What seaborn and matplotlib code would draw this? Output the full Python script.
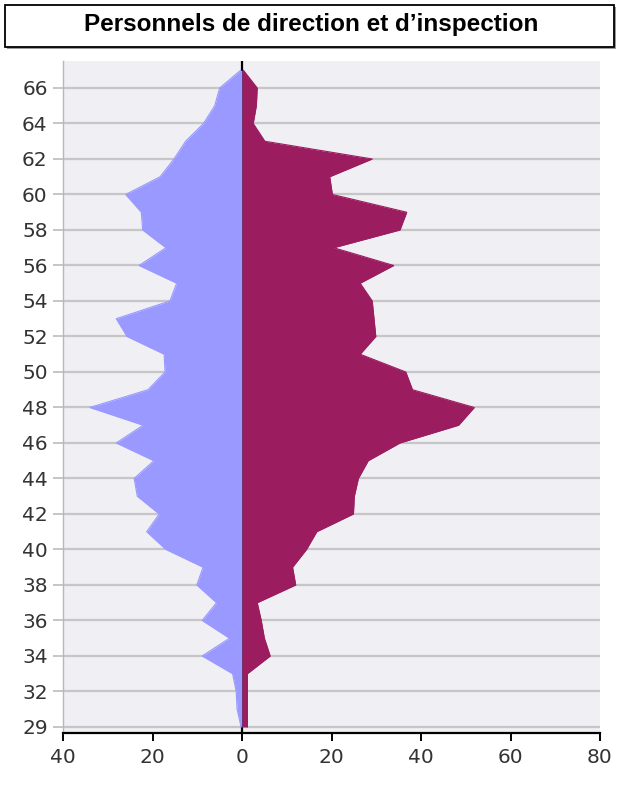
import numpy as np
import pandas as pd
import matplotlib
matplotlib.use("Agg")
import matplotlib.pyplot as plt
import seaborn as sns
from matplotlib.patches import Rectangle

# ---- data ----
ages = [29, 31] + list(range(32, 68))
left_values = [0.2, 1.1, 1.3, 2.1, 8.9, 2.8, 8.9, 5.7, 10.1, 8.7,
               17.0, 21.3, 18.5, 23.4, 24.1, 19.7, 28.1, 22.1, 34.0, 21.0,
               17.2, 17.4, 25.7, 28.1, 16.1, 14.6, 23.0, 17.0, 22.2, 22.5,
               26.0, 18.3, 15.2, 12.6, 8.6, 6.1, 5.0, 0.3]
right_values = [1.2, 1.2, 1.2, 1.2, 6.3, 5.0, 4.3, 3.4, 12.0, 11.3,
                14.4, 16.7, 24.9, 25.1, 26.0, 28.2, 35.3, 48.4, 51.9, 38.1,
                36.6, 26.4, 29.9, 29.5, 29.1, 26.4, 33.9, 20.5, 35.3, 36.8,
                20.2, 19.6, 29.1, 5.1, 2.5, 3.2, 3.4, 0.3]
x_ticks = [-40, -20, 0, 20, 40, 60, 80]
x_tick_labels = ["40", "20", "0", "20", "40", "60", "80"]
title = "Personnels de direction et d\u2019inspection"

sns.set_theme(style="white")
plt.rcParams["font.family"] = ["DejaVu Sans"]

df = pd.DataFrame({"pos": np.arange(len(ages)),
                   "age": ages,
                   "left": -np.array(left_values),
                   "right": np.array(right_values)})

W, H = 621, 787
fig = plt.figure(figsize=(W / 100, H / 100), dpi=100)
fig.patch.set_facecolor("white")
ax = fig.add_axes([63 / W, 1 - 733 / H, (600 - 63) / W, (733 - 61) / H])
ax.set_facecolor("#efeff4")

blue = "#9999ff"
pink = "#9c1c60"

ax.axvline(0, color="black", lw=1.6, zorder=1)
ax.fill_betweenx(df["pos"], df["left"], 0, color=blue, lw=0, zorder=2)
ax.fill_betweenx(df["pos"], 0, df["right"], color=pink, lw=0, zorder=2)
sns.lineplot(data=df, x="left", y="pos", orient="y", color=blue, lw=0.8, ax=ax, zorder=3)
sns.lineplot(data=df, x="right", y="pos", orient="y", color=pink, lw=0.8, ax=ax, zorder=3)

ax.set_xlim(-40, 80)
ax.set_ylim(-0.34, 37.52)

ytick_pos = [0] + list(range(2, len(ages), 2))
ax.set_yticks(ytick_pos)
ax.set_yticklabels([str(ages[i]) for i in ytick_pos])
ax.set_xticks(x_ticks)
ax.set_xticklabels(x_tick_labels)
ax.set_xlabel("")
ax.set_ylabel("")

ax.grid(axis="y", color="#c6c6c6", lw=1.6, zorder=0)
ax.grid(axis="x", visible=False)
ax.set_axisbelow(True)

for s in ["top", "right"]:
    ax.spines[s].set_visible(False)
ax.spines["left"].set_color("#b8b8b8")
ax.spines["left"].set_linewidth(1.0)
ax.spines["bottom"].set_color("black")
ax.spines["bottom"].set_linewidth(1.6)

ax.tick_params(axis="y", which="both", left=True, length=7, width=1.4,
               color="#c6c6c6", labelsize=14.5, labelcolor="#333333", pad=4)
ax.tick_params(axis="x", which="both", bottom=True, length=6, width=1.4,
               color="black", labelsize=14.5, labelcolor="#333333", pad=5,
               direction="out")

# title box
shadow = Rectangle((7 / W, 1 - 49 / H), (614 - 5) / W, (47 - 5) / H,
                   transform=fig.transFigure, facecolor="#9a9a9a",
                   edgecolor="none", zorder=0)
fig.patches.append(shadow)
box = Rectangle((5 / W, 1 - 47 / H), (614 - 5) / W, (47 - 5) / H,
                transform=fig.transFigure, facecolor="white",
                edgecolor="black", lw=1.3, zorder=1)
fig.patches.append(box)
fig.text(311 / W, 1 - 25 / H, title, ha="center", va="center",
         fontsize=17.5, fontweight="bold", family=["Liberation Sans", "DejaVu Sans"],
         color="black", zorder=2)

fig.savefig("out.png", dpi=100)
